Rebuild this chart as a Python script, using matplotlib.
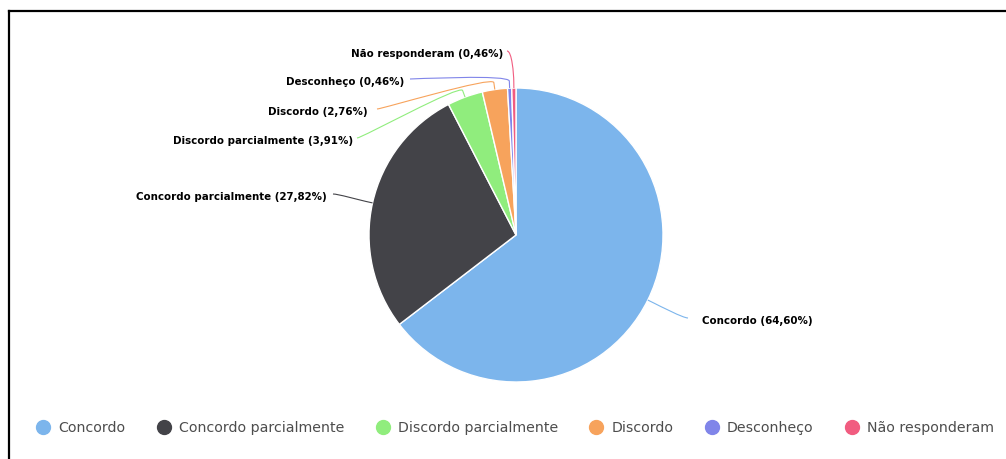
import numpy as np
import matplotlib
matplotlib.use("Agg")
import matplotlib.pyplot as plt
from matplotlib.lines import Line2D
from matplotlib.path import Path
from matplotlib.patches import PathPatch

# ---- data ----
categories = ["Concordo", "Concordo parcialmente", "Discordo parcialmente",
              "Discordo", "Desconheço", "Não responderam"]
values = [64.60, 27.82, 3.91, 2.76, 0.46, 0.46]
colors = ["#7cb5ec", "#434348", "#90ed7d", "#f7a35c", "#8085e9", "#f15c80"]

# ---- layout (pixel coordinates, y from top) ----
W, H = 1006, 459
pie_center_px = (516, 235)
pie_radius = 147
# (text edge x, text centre y, connector end x, side)
label_layout = [
    (702, 321, 688, "left"),
    (327, 197, 333, "right"),
    (353, 141, 357, "right"),
    (368, 112, 377, "right"),
    (404, 82, 410, "right"),
    (503, 54, 507, "right"),
]

def Y(py):
    return H - py

fig = plt.figure(figsize=(W / 100, H / 100), dpi=100)
ax = fig.add_axes([0, 0, 1, 1])

cx, cy = pie_center_px[0], Y(pie_center_px[1])
wedges, _ = ax.pie(values, colors=colors, startangle=90, counterclock=False,
                   center=(cx, cy), radius=pie_radius, frame=True,
                   wedgeprops=dict(edgecolor="white", linewidth=1))
ax.set_xlim(0, W)
ax.set_ylim(0, H)
ax.set_aspect("auto")
ax.axis("off")

off = 7
for w, name, val, col, (tx, ty, lx, side) in zip(wedges, categories, values, colors, label_layout):
    a = np.deg2rad((w.theta1 + w.theta2) / 2)
    d = np.array([np.cos(a), np.sin(a)])
    T = np.array([cx, cy]) + pie_radius * d
    B = np.array([cx, cy]) + (pie_radius + off) * d
    L = np.array([lx, Y(ty) + 3])
    sgn = -1 if side == "left" else 1
    c1 = np.array([L[0] + sgn * 5, L[1]])
    c2 = 2 * B - T
    verts = [tuple(L), tuple(c1), tuple(c2), tuple(B), tuple(T)]
    codes = [Path.MOVETO, Path.CURVE4, Path.CURVE4, Path.CURVE4, Path.LINETO]
    ax.add_patch(PathPatch(Path(verts, codes), facecolor="none", edgecolor=col, lw=0.8))
    txt = f"{name} ({val:.2f}%)".replace(".", ",")
    ax.text(tx, Y(ty), txt, ha=side, va="center", fontsize=7.4,
            fontweight="bold", color="#000000", family="DejaVu Sans")

handles = [Line2D([], [], marker="o", linestyle="none", markersize=10,
                  markerfacecolor=c, markeredgecolor=c) for c in colors]
leg = fig.legend(handles, categories, ncol=6, loc="center left",
                 bbox_to_anchor=(36 / W, 1 - 428 / H), frameon=False,
                 fontsize=10.2, handlelength=1.0, handletextpad=0.56,
                 columnspacing=2.22, borderpad=0, borderaxespad=0)
for t in leg.get_texts():
    t.set_color("#4d4d4d")

# partial frame of the screenshot
fig.add_artist(Line2D([9 / W, 9 / W], [0, 1 - 11 / H], transform=fig.transFigure,
                      color="black", lw=1.6))
fig.add_artist(Line2D([9 / W, 1], [1 - 11 / H, 1 - 11 / H], transform=fig.transFigure,
                      color="black", lw=1.6))

fig.savefig("out.png", dpi=100, facecolor="white")
